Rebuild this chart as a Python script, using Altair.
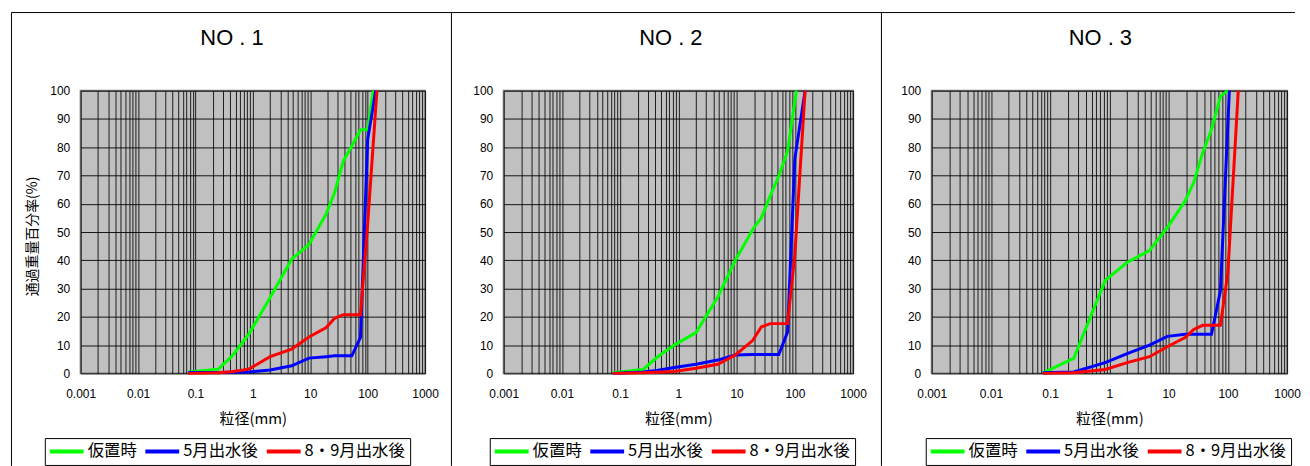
import altair as alt
import pandas as pd

series_names = ["仮置時", "5月出水後", "8・9月出水後"]
series_colors = ["#00ff00", "#0000ff", "#ff0000"]
panel_titles = ["NO . 1", "NO . 2", "NO . 3"]
x_title = "粒径(mm)"
y_title = "通過重量百分率(%)"
y_ticks = [0, 10, 20, 30, 40, 50, 60, 70, 80, 90, 100]
x_grid = [k * 10.0 ** e for e in range(-3, 3) for k in range(1, 10)] + [1000.0]

# ---- NO.1 ----
p1_green_d = [0.075, 0.25, 0.425, 0.85, 2, 4.75, 9.5, 19, 26.5, 37.5, 53, 75, 100, 125]
p1_green_v = [0.5, 1.5, 5.9, 13.9, 26.8, 40.4, 45.6, 56.5, 63.9, 75.0, 80.5, 86.2, 86.2, 100]
p1_blue_d = [0.075, 0.25, 0.425, 0.85, 2, 4.75, 9.5, 19, 26.5, 37.5, 53, 75, 100, 138]
p1_blue_v = [0.3, 0.3, 0.4, 0.5, 1.2, 2.7, 5.4, 5.9, 6.2, 6.2, 6.2, 12.7, 82.7, 100]
p1_red_d = [0.075, 0.25, 0.425, 0.85, 2, 4.75, 9.5, 19, 26.5, 37.5, 53, 75, 100, 145]
p1_red_v = [0.0, 0.2, 0.6, 1.5, 5.9, 8.6, 12.9, 16.2, 19.5, 20.7, 20.7, 20.7, 52.7, 100]

# ---- NO.2 ----
p2_green_d = [0.075, 0.25, 0.425, 0.85, 2, 4.75, 9.5, 19, 26.5, 37.5, 53, 75, 106]
p2_green_v = [0.2, 1.4, 5.6, 10.0, 14.4, 27.0, 40.0, 51.0, 55.0, 62.6, 69.8, 78.6, 100]
p2_blue_d = [0.075, 0.25, 0.425, 0.85, 2, 4.75, 9.5, 19, 26.5, 37.5, 53, 75, 100, 150]
p2_blue_v = [0.0, 0.5, 1.0, 2.1, 3.2, 4.7, 6.5, 6.7, 6.7, 6.7, 6.7, 14.7, 76.0, 100]
p2_red_d = [0.075, 0.25, 0.425, 0.85, 2, 4.75, 9.5, 19, 26.5, 37.5, 53, 75, 100, 150]
p2_red_v = [0.0, 0.2, 0.4, 0.7, 1.8, 3.2, 6.5, 11.7, 16.4, 17.6, 17.6, 17.6, 42.0, 100]

# ---- NO.3 ----
p3_green_d = [0.075, 0.25, 0.85, 2, 4.75, 9.5, 19, 26.5, 37.5, 53, 75, 100]
p3_green_v = [0.2, 5.3, 32.9, 39.3, 43.4, 51.6, 61.0, 67.5, 78.0, 86.3, 98.0, 100]
p3_blue_d = [0.075, 0.25, 0.85, 2, 4.75, 9.5, 19, 26.5, 37.5, 53, 75, 106]
p3_blue_v = [0.2, 0.5, 3.8, 7.0, 10.0, 13.1, 13.8, 13.8, 13.8, 13.8, 29.3, 100]
p3_red_d = [0.075, 0.25, 0.85, 2, 4.75, 9.5, 19, 26.5, 37.5, 53, 75, 100, 150]
p3_red_v = [0.0, 0.2, 1.4, 3.8, 5.9, 9.4, 12.7, 15.5, 17.0, 17.0, 17.0, 35.6, 100]

panels = [
    [(p1_green_d, p1_green_v), (p1_blue_d, p1_blue_v), (p1_red_d, p1_red_v)],
    [(p2_green_d, p2_green_v), (p2_blue_d, p2_blue_v), (p2_red_d, p2_red_v)],
    [(p3_green_d, p3_green_v), (p3_blue_d, p3_blue_v), (p3_red_d, p3_red_v)],
]

# layout (pixels)
H = 284
widths = [346, 351, 357]
legend_x = [-36, -14, -6]
title_x = [152, 168, 169.5]
left_line = [-69.5, -52.5, -50.5]
top_right = [372.5, 379.5, 365]

JP = "Noto Sans CJK JP"
LAT = "Liberation Sans"

label_expr = ("abs(log(datum.value)/LN10 - round(log(datum.value)/LN10)) < 0.001"
              " ? format(datum.value, '~g') : ''")

one = pd.DataFrame({"k": [0]})


def make_panel(i):
    rows = []
    for name, (ds, vs) in zip(series_names, panels[i]):
        for d, v in zip(ds, vs):
            rows.append({"series": name, "d": d, "v": v})
    df = pd.DataFrame(rows)
    w = widths[i]

    lines = alt.Chart(df).mark_line(strokeWidth=3).encode(
        x=alt.X("d:Q",
                scale=alt.Scale(type="log", domain=[0.001, 1000]),
                axis=alt.Axis(values=x_grid, labelExpr=label_expr, labelOverlap=False,
                              labelFlush=False, ticks=False, domain=False,
                              grid=True, gridColor="black", gridOpacity=0.85, gridWidth=1,
                              labelFont=LAT, labelFontSize=12, labelColor="black",
                              labelPadding=15,
                              title=x_title, titleFont=JP, titleFontSize=15,
                              titleFontWeight="normal", titleColor="black",
                              titleY=45, titleBaseline="middle")),
        y=alt.Y("v:Q",
                scale=alt.Scale(domain=[0, 100]),
                axis=alt.Axis(values=y_ticks, ticks=False, domain=False,
                              grid=True, gridColor="black", gridOpacity=0.9, gridWidth=1,
                              labelFont=LAT, labelFontSize=12, labelColor="black",
                              labelPadding=11,
                              title=y_title if i == 0 else None,
                              titleFont=JP, titleFontSize=14, titleFontWeight="normal",
                              titleColor="black", titleX=-48, titleY=146,
                              titleAlign="center", titleBaseline="middle")),
        color=alt.Color("series:N",
                        scale=alt.Scale(domain=series_names, range=series_colors),
                        legend=alt.Legend(title=None, orient="none",
                                          legendX=legend_x[i], legendY=349,
                                          direction="horizontal",
                                          symbolType="M-3,0H3", symbolSize=128.4,
                                          symbolStrokeWidth=4, symbolOffset=8.75,
                                          labelFont=JP, labelFontSize=16.5,
                                          labelColor="black", labelOffset=12.75,
                                          columnPadding=0, padding=5,
                                          strokeColor="black", fillColor="white")),
        order=alt.Order("d:Q"),
    )

    title = alt.Chart(one).mark_text(font=LAT, fontSize=22, baseline="alphabetic",
                                     align="center", color="black").encode(
        x=alt.value(title_x[i]), y=alt.value(-46), text=alt.value(panel_titles[i]))

    vline = alt.Chart(one).mark_rule(color="black", strokeWidth=1, clip=False).encode(
        x=alt.value(left_line[i]), y=alt.value(-78.5), y2=alt.value(377))
    hline = alt.Chart(one).mark_rule(color="black", strokeWidth=1, clip=False).encode(
        x=alt.value(left_line[i]), x2=alt.value(top_right[i]), y=alt.value(-78.5))

    return alt.layer(lines, title, vline, hline).properties(width=w, height=H)


chart = alt.hconcat(make_panel(0), make_panel(1), make_panel(2),
                    spacing=79, bounds="flush").resolve_legend(
    color="independent").properties(
    padding={"left": 2, "top": 2, "right": 0, "bottom": 0}).configure_view(
    fill="#c0c0c0", stroke="#808080", strokeWidth=2)

chart.save("out.html", embed_options={"renderer": "svg", "actions": False})
